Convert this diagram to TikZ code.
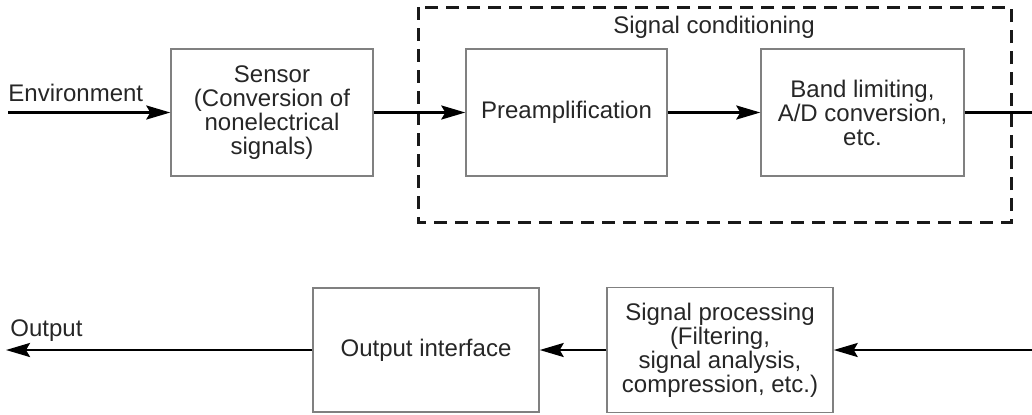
\documentclass[tikz,border=0pt]{standalone}
\usepackage{fontspec}
\setmainfont{Liberation Sans}
\usetikzlibrary{arrows.meta}
\begin{document}
\begin{tikzpicture}[x=0.5pt,y=-0.5pt,
  every node/.style={font=\fontsize{12}{12}\selectfont, text=black!85},
  block/.style={draw=black!50, line width=0.7pt, rectangle, align=center, inner sep=0pt},
  flow/.style={line width=1.3pt, -{Stealth[length=12pt,width=7pt,inset=2pt]}},
  wire/.style={line width=1.3pt},
  tag/.style={anchor=west, inner sep=0pt},
  groupbox/.style={draw=black!90, line width=1.5pt, dash pattern=on 6.5pt off 4pt}]
  \useasboundingbox (0,0) rectangle (1032,414);

  % signal conditioning group
  \draw[groupbox] (418,7) rectangle (1011,222);
  \node (sclabel) at (714,27) {Signal conditioning};

  % top row blocks
  \node[block, minimum width=101pt, minimum height=63.5pt] (sensor) at (272,112.5)
    {Sensor\\(Conversion of\\nonelectrical\\signals)};
  \node[block, minimum width=100.5pt, minimum height=63.5pt] (preamp) at (566.5,112.5)
    {Preamplification};
  \node[block, minimum width=101.5pt, minimum height=63.5pt] (band) at (862.5,112.5)
    {Band limiting,\\A/D conversion,\\etc.};

  % bottom row blocks
  \node[block, minimum width=113pt, minimum height=62pt] (outif) at (426,350)
    {Output interface};
  \node[block, minimum width=113pt, minimum height=62.5pt] (sigproc) at (720,350)
    {Signal processing\\(Filtering,\\signal analysis,\\compression, etc.)};

  % free ends
  \coordinate (envin) at (8,112.5);
  \coordinate (topout) at (1032,112.5);
  \coordinate (botin) at (1032,350);
  \coordinate (outend) at (6,350);

  \node[tag] (envlabel) at (8,93) {Environment};
  \node[tag] (outlabel) at (10,331) {Output};

  % connectors
  \draw[flow] (envin) -- (sensor.west);
  \draw[flow] (sensor.east) -- (preamp.west);
  \draw[flow] (preamp.east) -- (band.west);
  \draw[wire] (band.east) -- (topout);
  \draw[flow] (botin) -- (sigproc.east);
  \draw[flow] (sigproc.west) -- (outif.east);
  \draw[flow] (outif.west) -- (outend);
\end{tikzpicture}
\end{document}
